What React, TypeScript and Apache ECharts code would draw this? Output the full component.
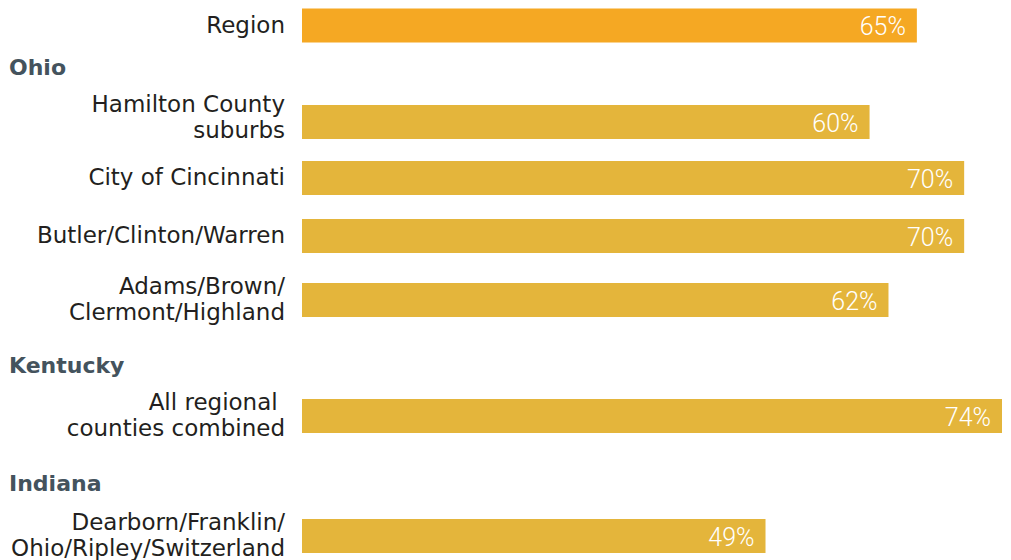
import React, { useEffect, useRef } from "react";
import * as echarts from "echarts";

// ---- data ----
const categories = [
  "Region",
  "Hamilton County\nsuburbs",
  "City of Cincinnati",
  "Butler/Clinton/Warren",
  "Adams/Brown/\nClermont/Highland",
  "All regional \ncounties combined",
  "Dearborn/Franklin/\nOhio/Ripley/Switzerland",
];
const values = [65, 60, 70, 70, 62, 74, 49];
const groupHeaders = ["Ohio", "Kentucky", "Indiana"];

// ---- layout (row centres on a hidden 0..56 vertical scale) ----
const rowPos = [2.55, 12.2, 17.8, 23.6, 30.0, 41.6, 53.6];
const headerPos = [6.7, 36.5, 48.3];
const labelShift = [0, -0.4, 0, 0, 0, 0, 0];

const REGION_COLOR = "#F5A823";
const BAR_COLOR = "#E4B53B";
const LABEL_COLOR = "#231F20";
const HEADER_COLOR = "#44535D";
const LABEL_FONT = "DejaVu Sans, Verdana, sans-serif";

export default function App() {
  const ref = useRef<HTMLDivElement>(null);
  useEffect(() => {
    if (!ref.current) return;
    const chart = echarts.init(ref.current, undefined, { renderer: "svg" });
    const barData = values.map((v, i) => [v, rowPos[i]]);
    const headerData = headerPos.map((p) => [0, p]);
    chart.setOption({
      animation: false,
      grid: { left: 302, right: 9, top: 0, bottom: 0 },
      xAxis: { type: "value", min: 0, max: 74, show: false },
      yAxis: { type: "value", min: 0, max: 56, inverse: true, show: false },
      series: [
        {
          type: "custom",
          clip: false,
          data: barData,
          renderItem: (params: any, api: any) => {
            const v = api.value(0);
            const y = api.value(1);
            const i = params.dataIndex;
            const s = api.coord([0, y]);
            const e = api.coord([v, y]);
            const sh = api.coord([0, y + labelShift[i]]);
            const h = 34;
            return {
              type: "group",
              children: [
                {
                  type: "rect",
                  shape: { x: s[0], y: s[1] - h / 2, width: e[0] - s[0], height: h },
                  style: { fill: i === 0 ? REGION_COLOR : BAR_COLOR },
                },
                {
                  type: "text",
                  x: e[0] - 11,
                  y: e[1] + 1,
                  style: {
                    text: v + "%",
                    fill: "#FFFFFF",
                    fontFamily: "Roboto, sans-serif",
                    fontWeight: 300,
                    fontSize: 25,
                    align: "right",
                    verticalAlign: "middle",
                  },
                },
                {
                  type: "text",
                  x: s[0] - 17,
                  y: sh[1] - 1,
                  style: {
                    text: categories[i],
                    fill: LABEL_COLOR,
                    fontFamily: LABEL_FONT,
                    fontSize: 23,
                    lineHeight: 26,
                    align: "right",
                    verticalAlign: "middle",
                  },
                },
              ],
            };
          },
        },
        {
          type: "custom",
          clip: false,
          data: headerData,
          renderItem: (params: any, api: any) => {
            const p = api.coord([0, api.value(1)]);
            return {
              type: "text",
              x: 9,
              y: p[1],
              style: {
                text: groupHeaders[params.dataIndex],
                fill: HEADER_COLOR,
                fontFamily: LABEL_FONT,
                fontWeight: "bold",
                fontSize: 22,
                align: "left",
                verticalAlign: "middle",
              },
            };
          },
        },
      ],
    });
    return () => chart.dispose();
  }, []);
  return (
    <div
      ref={ref}
      style={{ position: "fixed", left: 0, top: 0, width: 1011, height: 560, background: "#fff" }}
    />
  );
}
